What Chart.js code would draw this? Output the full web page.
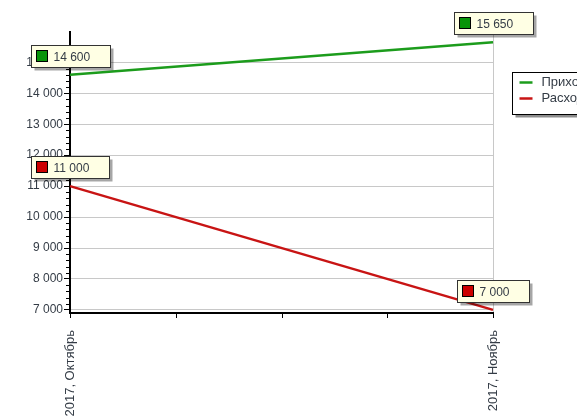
<!DOCTYPE html>
<html>
<head>
<meta charset="utf-8">
<script src="https://cdn.jsdelivr.net/npm/chart.js@4.4.1/dist/chart.umd.min.js"></script>
<style>
  html, body { margin: 0; padding: 0; background: #fff; overflow: hidden; }
  #wrap { width: 577px; height: 418px; }
</style>
</head>
<body>
<div id="wrap"><canvas id="chart" width="577" height="418"></canvas></div>
<script>
// Данные графика
const months = ['2017, Октябрь', '2017, Ноябрь'];
const seriesNames = ['Приход', 'Расход'];
const income = [14600, 15650];
const expense = [11000, 7000];
const yTicks = [7000, 8000, 9000, 10000, 11000, 12000, 13000, 14000, 15000];

const colors = ['#1c9c1c', '#c81414'];
const boxColors = ['#089408', '#cc0000'];
const textColor = '#343c46';
const fontFam = '"Liberation Sans", Arial, sans-serif';

const fmt = v => String(v).replace(/\B(?=(\d{3})+(?!\d))/g, ' ');

// Малые деления осей, подписи значений, легенда
const extras = {
  id: 'extras',
  afterDraw(chart) {
    const { ctx, chartArea: a, scales: { x, y } } = chart;
    ctx.save();
    ctx.strokeStyle = '#000';
    ctx.lineWidth = 1;
    // минорные деления по Y
    for (let i = 0; i < yTicks.length - 1; i++) {
      const step = (yTicks[i + 1] - yTicks[i]) / 5;
      for (let k = 1; k < 5; k++) {
        const py = Math.round(y.getPixelForValue(yTicks[i] + step * k)) + 0.5;
        ctx.beginPath(); ctx.moveTo(a.left - 4, py); ctx.lineTo(a.left, py); ctx.stroke();
      }
    }
    // деления по X (четверти)
    for (let k = 0; k <= 4; k++) {
      const px = Math.round(a.left + (a.right - a.left) * k / 4) + 0.5;
      ctx.beginPath(); ctx.moveTo(px, a.bottom); ctx.lineTo(px, a.bottom + 5); ctx.stroke();
    }
    // подписи значений
    ctx.font = '12px ' + fontFam;
    ctx.textBaseline = 'middle';
    chart.data.datasets.forEach((ds, di) => {
      chart.getDatasetMeta(di).data.forEach((pt, i) => {
        const txt = fmt(ds.data[i]);
        const w = Math.round(24 + ctx.measureText(txt).width + 18);
        const h = 22;
        const bx = Math.round(pt.x - w / 2) + 0.5;
        const by = Math.round(pt.y - 8 - h) + 0.5;
        ctx.fillStyle = 'rgba(0,0,0,0.35)';
        ctx.fillRect(bx + 3, by + 3, w, h);
        ctx.fillStyle = '#ffffe4';
        ctx.fillRect(bx, by, w, h);
        ctx.strokeStyle = '#333';
        ctx.strokeRect(bx, by, w, h);
        ctx.fillStyle = boxColors[di];
        ctx.fillRect(bx + 5, by + 5, 11, 11);
        ctx.strokeStyle = '#000';
        ctx.strokeRect(bx + 5, by + 5, 11, 11);
        ctx.fillStyle = textColor;
        ctx.textAlign = 'left';
        ctx.fillText(txt, bx + 22, by + h / 2 + 1);
      });
    });
    // легенда (обрезается краем окна)
    const lx = 512.5, ly = 72.5, lw = 95, lh = 42;
    ctx.fillStyle = 'rgba(0,0,0,0.45)';
    ctx.fillRect(lx + 3, ly + 3, lw, lh);
    ctx.fillStyle = '#fff';
    ctx.fillRect(lx, ly, lw, lh);
    ctx.strokeStyle = '#000';
    ctx.strokeRect(lx, ly, lw, lh);
    ctx.font = '13px ' + fontFam;
    seriesNames.forEach((name, i) => {
      const ry = ly + 10 + i * 16;
      ctx.strokeStyle = colors[i];
      ctx.lineWidth = 2.5;
      ctx.beginPath(); ctx.moveTo(lx + 7, ry); ctx.lineTo(lx + 20, ry); ctx.stroke();
      ctx.fillStyle = textColor;
      ctx.fillText(name, lx + 29, ry);
    });
    ctx.restore();
  }
};

new Chart(document.getElementById('chart'), {
  type: 'line',
  data: {
    labels: months,
    datasets: [
      { label: seriesNames[0], data: income, borderColor: colors[0], borderWidth: 2.5, pointRadius: 0, tension: 0 },
      { label: seriesNames[1], data: expense, borderColor: colors[1], borderWidth: 2.5, pointRadius: 0, tension: 0 }
    ]
  },
  options: {
    responsive: false,
    animation: false,
    layout: { padding: { left: 0, right: 84, top: 32, bottom: 0 } },
    plugins: { legend: { display: false }, tooltip: { enabled: false } },
    scales: {
      x: {
        offset: false,
        afterFit: s => { s.height = 418 - 313; },
        grid: { color: '#c8c8c8', drawTicks: false },
        border: { color: '#000', width: 2 },
        ticks: {
          autoSkip: false, minRotation: 90, maxRotation: 90, padding: 17,
          color: textColor, font: { family: fontFam, size: 13 }
        }
      },
      y: {
        min: 6900, max: 15980,
        afterFit: s => { s.width = 70; },
        afterBuildTicks: s => { s.ticks = yTicks.map(v => ({ value: v })); },
        grid: { color: '#c8c8c8', tickColor: '#000', tickLength: 6 },
        border: { color: '#000', width: 2 },
        ticks: {
          padding: 1, color: textColor,
          font: { family: fontFam, size: 12 },
          callback: v => fmt(v)
        }
      }
    }
  },
  plugins: [extras]
});
</script>
</body>
</html>
